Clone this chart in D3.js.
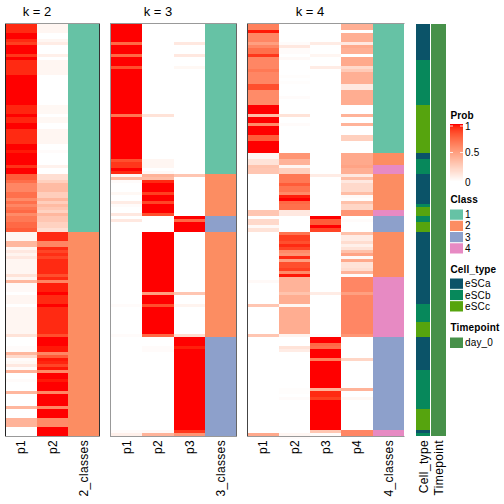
<!DOCTYPE html>
<html><head><meta charset="utf-8">
<script src="https://cdn.jsdelivr.net/npm/d3@7"></script>
<style>html,body{margin:0;padding:0;background:#fff}svg{display:block}text{font-family:"Liberation Sans",Arial,sans-serif;fill:#000}</style>
</head><body><div id="c"></div>
<script>
// Each column: runs of [row count, probability]; 137 rows in total
const k2p1=[[3,.95],[2,1],[1,.95],[1,.9],[3,1],[1,.92],[1,1],[5,.95],[10,1],[3,.96],[1,1],[2,.96],[2,1],[5,.95],[2,1],[1,.98],[4,1],[1,.93],[2,1],[2,.8],[1,.73],[3,.62],[2,.72],[1,.6],[1,.72],[1,.62],[1,.7],[1,.75],[1,.6],[2,.68],[2,.75],[1,.8],
[3,.05],[2,.38],[1,.05],[1,.12],[1,.06],[1,.12],[5,.05],[1,.15],[1,.05],[1,.38],[3,.03],[1,0],[3,.05],[1,0],[9,.05],[1,.15],[3,0],[2,.02],[1,.38],[1,.2],[1,.02],[1,.04],[1,.12],[1,.02],[1,.4],[2,0],[1,.02],[3,0],[1,.38],[4,0],[1,.38],[3,0],[3,.4],[3,0]];
const k2p2=[[3,.05],[2,0],[1,.05],[1,.1],[3,0],[1,.08],[1,0],[5,.05],[10,0],[3,.04],[1,0],[2,.04],[2,0],[5,.05],[2,0],[1,.02],[4,0],[1,.07],[2,0],[2,.17],[1,.25],[3,.36],[2,.26],[1,.38],[1,.26],[1,.36],[1,.3],[1,.24],[1,.38],[2,.3],[2,.24],[1,.17],
[3,.95],[2,.62],[1,.95],[1,.88],[1,.94],[1,.88],[5,.95],[1,.85],[1,.95],[1,.62],[3,.97],[1,1],[3,.95],[1,1],[9,.95],[1,.85],[3,1],[2,.98],[1,.62],[1,.8],[1,.98],[1,.96],[1,.88],[1,.98],[1,.6],[2,1],[1,.98],[3,1],[1,.62],[4,1],[1,.62],[3,1],[3,.6],[3,1]];
const k2cl=[[69,1],[68,2]];

const k3p1=[[6,1],[1,.75],[3,1],[1,.75],[3,1],[1,.85],[15,1],[1,.7],[14,1],[1,.85],[2,.92],[1,1],[1,.95],[1,.05],[1,.35],[1,.02],[3,0],[1,.04],[2,0],[1,.1],[1,.02],[2,0],[1,.12],[1,0],[1,.12],[27,0],[1,.02],[9,0],[1,.02],[31,0],[1,.02],[1,.08]];
const k3p2=[[30,0],[1,.15],[14,0],[3,.05],[1,0],[1,.03],[1,.4],[1,.35],[1,.95],[3,1],[1,.9],[2,1],[1,.88],[3,1],[1,.85],[5,0],[20,1],[1,.5],[3,1],[1,.85],[9,1],[1,.75],[3,0],[2,.02],[26,0],[1,.03],[1,.4]];
const k3p3=[[6,0],[1,.12],[3,0],[1,.12],[3,0],[1,.04],[35,0],[1,.3],[13,0],[1,1],[1,.75],[3,1],[20,0],[1,.3],[3,0],[1,.06],[9,0],[1,.18],[3,1],[1,.97],[27,1],[1,.92],[1,.55]];
const k3cl=[[50,1],[14,2],[5,3],[35,2],[33,3]];

const k4p1=[[2,.65],[1,.98],[3,.62],[1,.5],[1,.62],[2,.72],[1,.92],[4,.62],[1,.68],[4,.62],[2,.85],[5,.6],[3,1],[1,.35],[2,1],[1,.6],[3,1],[2,.8],[4,1],[2,.05],[2,.15],[1,.32],[2,.3],[12,0],[2,.3],[1,0],[2,.2],[1,.03],[1,.15],[16,0],[1,.03],[7,0],[1,.3],[9,0],[1,.3],[32,0],[1,.45]];
const k4p2=[[6,0],[1,.02],[1,.12],[2,.02],[1,0],[1,.03],[5,0],[1,.01],[1,0],[1,.01],[4,0],[1,.02],[5,0],[1,.15],[2,0],[1,.02],[9,0],[2,.55],[2,.4],[1,.05],[2,.25],[3,.68],[1,.8],[2,.7],[1,.6],[1,.97],[1,1],[1,.75],[2,.72],[2,.12],[5,0],[1,.7],[2,.9],[1,.85],[1,.95],[1,.88],[1,.6],[1,.55],[1,.95],[1,.5],[2,.85],[1,.9],[1,.6],[1,.98],[5,.4],[1,.32],[3,.43],[1,.05],[9,.43],[1,.06],[3,0],[1,.15],[1,.1],[12,0],[2,.01],[1,0],[1,.02],[11,0],[1,.05],[1,.02]];
const k4p3=[[6,0],[1,.1],[3,0],[1,.05],[3,0],[1,.1],[35,0],[1,.1],[13,0],[1,1],[2,.8],[1,1],[1,.88],[20,0],[1,.1],[13,0],[1,.02],[2,1],[1,.75],[1,.72],[3,1],[1,.65],[9,1],[1,.4],[2,.95],[1,.9],[10,1],[1,.3],[1,.02]];
const k4p4=[[2,.42],[1,0],[3,.42],[1,.12],[1,.45],[2,.42],[1,0],[3,.45],[1,.2],[1,.28],[4,.42],[2,.12],[5,.43],[3,0],[1,.4],[2,0],[1,.4],[3,0],[2,.25],[4,0],[4,.45],[1,.48],[2,.42],[1,.12],[1,.35],[1,.12],[3,.2],[1,.35],[1,.03],[1,.01],[1,.33],[2,.22],[2,.55],[1,0],[1,.02],[3,0],[1,.33],[2,.1],[1,.18],[1,.08],[1,.15],[1,.33],[1,.48],[1,.03],[1,.45],[2,.15],[1,.18],[1,.4],[1,.02],[5,.62],[1,.5],[13,.62],[1,.55],[7,0],[1,.22],[9,0],[1,.4],[2,0],[1,.04],[10,0],[2,.62]];
const k4cl=[[43,1],[4,2],[3,4],[12,2],[2,4],[5,3],[15,2],[20,4],[31,3],[2,4]];

const cellType=[[12,"eSCa"],[15,"eSCb"],[16,"eSCc"],[2,"eSCa"],[5,"eSCb"],[10,"eSCa"],[1,"eSCb"],[3,"eSCc"],[2,"eSCb"],[3,"eSCc"],[24,"eSCa"],[6,"eSCb"],[5,"eSCc"],[11,"eSCa"],[13,"eSCb"],[7,"eSCc"],[1,"eSCa"],[1,"eSCb"]];
const timepoint=[[137,"day_0"]];

const titles=["k = 2","k = 3","k = 4"];
const colNames=[["p1","p2","2_classes"],["p1","p2","p3","3_classes"],["p1","p2","p3","p4","4_classes"]];
const annNames=["Cell_type","Timepoint"];
const classKeys=[1,2,3,4];
const classColors=["#66C2A5","#FC8D62","#8DA0CB","#E78AC3"];
const cellKeys=["eSCa","eSCb","eSCc"];
const cellColors=["#0B5368","#07885B","#56A40E"];
const timeKeys=["day_0"];
const timeColors=["#47914A"];
const probTicks=[1,0.5,0];

const W=504,H=504,hmTop=24,hmBottom=436,nRows=137;
const svg=d3.select("#c").append("svg").attr("width",W).attr("height",H);
const y=d3.scaleLinear().domain([0,nRows]).range([hmTop,hmBottom]);
const prob=d3.scaleLinear().domain([0,1]).range(["#ffffff","#ff0000"]).interpolate(d3.interpolateLab);
const clsC=d3.scaleOrdinal(classKeys,classColors);
const cellC=d3.scaleOrdinal(cellKeys,cellColors);
const timeC=d3.scaleOrdinal(timeKeys,timeColors);

function column(g,runs,x,w,color){
  let r=0;
  runs.forEach(([n,v])=>{
    g.append("rect").attr("x",x).attr("y",y(r)).attr("width",w).attr("height",y(r+n)-y(r))
     .attr("fill",color(v)).attr("shape-rendering","crispEdges");
    r+=n;
  });
}
function colLabel(x,t){
  svg.append("text").attr("transform",`translate(${x},440) rotate(-90)`)
    .attr("text-anchor","end").attr("dy","0.36em").attr("font-size",12).attr("letter-spacing",0.35).text(t);
}
const layout=[
 {range:[5.5,99.5],tx:37,cols:[k2p1,k2p2,k2cl],lc:"#222",rc:"#333"},
 {range:[110.5,236.5],tx:158,cols:[k3p1,k3p2,k3p3,k3cl],lc:"#999",rc:"#666"},
 {range:[247.5,404],tx:310,cols:[k4p1,k4p2,k4p3,k4p4,k4cl],lc:"#444",rc:null}
];
layout.forEach((p,i)=>{
  const x=d3.scaleBand().domain(d3.range(p.cols.length)).range(p.range);
  const g=svg.append("g");
  p.cols.forEach((runs,j)=>{
    const isClass=j===p.cols.length-1;
    column(g,runs,x(j),x.bandwidth(),isClass?clsC:prob);
    colLabel(x(j)+x.bandwidth()/2,colNames[i][j]);
  });
  const [a,b]=p.range;
  g.append("line").attr("x1",a-.5).attr("x2",b+.5).attr("y1",hmTop-.5).attr("y2",hmTop-.5).attr("stroke","#999");
  g.append("line").attr("x1",a-.5).attr("x2",b+.5).attr("y1",hmBottom+.5).attr("y2",hmBottom+.5).attr("stroke","#999");
  g.append("line").attr("x1",a).attr("x2",a).attr("y1",hmTop).attr("y2",hmBottom).attr("stroke",p.lc);
  if(p.rc) g.append("line").attr("x1",b).attr("x2",b).attr("y1",hmTop).attr("y2",hmBottom).attr("stroke",p.rc);
  svg.append("text").attr("x",p.tx).attr("y",15.5).attr("text-anchor","middle").attr("font-size",13).text(titles[i]);
});

// annotation columns
const annX=d3.scaleBand().domain([0,1]).range([416,445.5]).paddingInner(0.05);
column(svg.append("g"),cellType,annX(0),annX.bandwidth(),cellC);
column(svg.append("g"),timepoint,annX(1),annX.bandwidth(),timeC);
annNames.forEach((t,i)=>colLabel(annX(i)+annX.bandwidth()/2,t));

// legends
const lx=451,sw=12,lab=465;
function lgTitle(t,yy){svg.append("text").attr("x",lx-.5).attr("y",yy).attr("font-size",10).attr("font-weight","bold").attr("letter-spacing",0.15).text(t);}
function lgLabel(t,yy){svg.append("text").attr("x",lab).attr("y",yy).attr("dy","0.36em").attr("font-size",10).attr("letter-spacing",0.15).text(t);}
function swatches(keys,color,y0,h){
  keys.forEach((k,i)=>{
    svg.append("rect").attr("x",lx-1).attr("y",y0+i*h).attr("width",sw+1).attr("height",h).attr("fill","#fff");
    svg.append("rect").attr("x",lx-1).attr("y",y0+i*h+.5).attr("width",sw+1).attr("height",h-1).attr("fill",color(k));
    lgLabel(k,y0+i*h+h/2);
  });
}
lgTitle("Prob",119);
const barY=d3.scaleLinear().domain([0,1]).range([181,124]);
const barGrad=svg.append("g");
d3.range(0,57).forEach(i=>{
  const v=i/56;
  barGrad.append("rect").attr("x",lx-1).attr("y",barY(v)-.5).attr("width",sw+1).attr("height",1.2).attr("fill",prob(v)).attr("shape-rendering","crispEdges");
});
probTicks.forEach(t=>{
  const py=t===1?barY(t)+2:barY(t);
  lgLabel(t,py+(t===0?1:0));
  if(t>0){
    barGrad.append("line").attr("x1",lx-1).attr("x2",lx+2).attr("y1",py).attr("y2",py).attr("stroke","#fff").attr("stroke-width",.8);
    barGrad.append("line").attr("x1",lx+9).attr("x2",lx+sw).attr("y1",py).attr("y2",py).attr("stroke","#fff").attr("stroke-width",.8);
  }
});
lgTitle("Class",203);
swatches(classKeys,clsC,209,11.25);
lgTitle("Cell_type",273);
swatches(cellKeys,cellC,278,11.33);
lgTitle("Timepoint",331);
swatches(timeKeys,timeC,337,11.5);
</script></body></html>
